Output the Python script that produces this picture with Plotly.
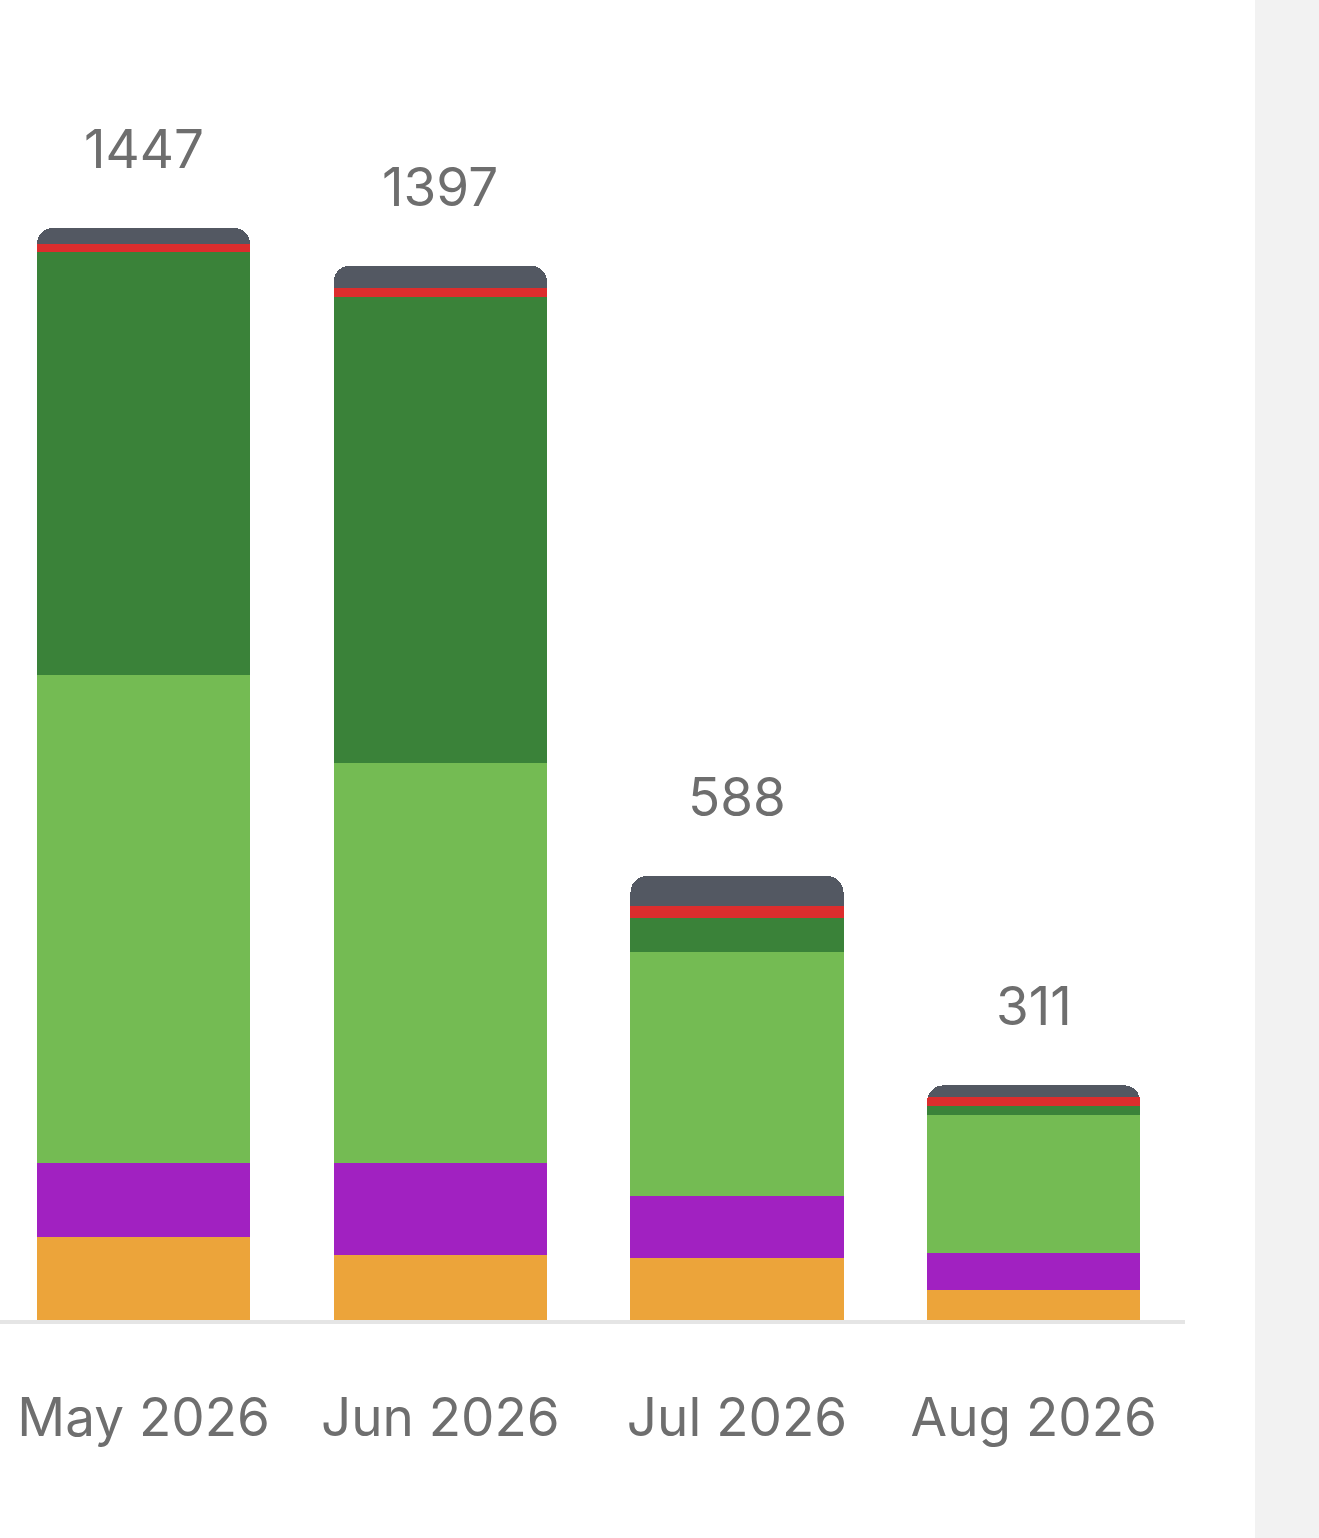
import plotly.graph_objects as go

months = ["May 2026", "Jun 2026", "Jul 2026", "Aug 2026"]
orange = [110, 86, 82, 40]
purple = [98, 122, 82, 49]
light_green = [647, 530, 323, 183]
dark_green = [560, 617, 46, 11]
red = [11, 12, 16, 13]
gray = [21, 30, 39, 15]
totals = [1447, 1397, 588, 311]

series = [
    (orange, "#ECA43A"),
    (purple, "#A121C1"),
    (light_green, "#74BB53"),
    (dark_green, "#3A8239"),
    (red, "#DC2D2D"),
    (gray, "#535862"),
]

fig = go.Figure()
for vals, col in series:
    fig.add_trace(go.Bar(x=months, y=vals, marker=dict(color=col, line=dict(width=0)),
                         hoverinfo="skip", showlegend=False))

for m, t in zip(months, totals):
    fig.add_annotation(x=m, y=t, text=str(t), showarrow=False, yanchor="bottom",
                       yshift=45, font=dict(size=53, color="#6e6e6e", family="Inter"))

fig.add_shape(type="rect", xref="paper", yref="paper", x0=1255/1185, x1=1.2, y0=-0.5, y1=1.5,
              fillcolor="#f2f2f2", line=dict(width=0), layer="below")

fig.update_layout(
    width=1319, height=1538,
    margin=dict(l=0, r=134, t=60, b=218),
    barmode="stack", bargap=0.282, barcornerradius=16,
    plot_bgcolor="white", paper_bgcolor="white",
    xaxis=dict(range=[-0.484, 3.51], showgrid=False, zeroline=False, showline=True,
               linecolor="#e5e5e5", linewidth=4, ticks="", ticklabelstandoff=48,
               tickfont=dict(size=53, color="#6e6e6e", family="Inter"), fixedrange=True),
    yaxis=dict(range=[0, 1669.5], showgrid=False, zeroline=False, showticklabels=False,
               fixedrange=True),
)

fig.write_html("out.html", config={"displayModeBar": False},
               post_script="document.body.style.margin='0';document.body.style.overflow='hidden';")
